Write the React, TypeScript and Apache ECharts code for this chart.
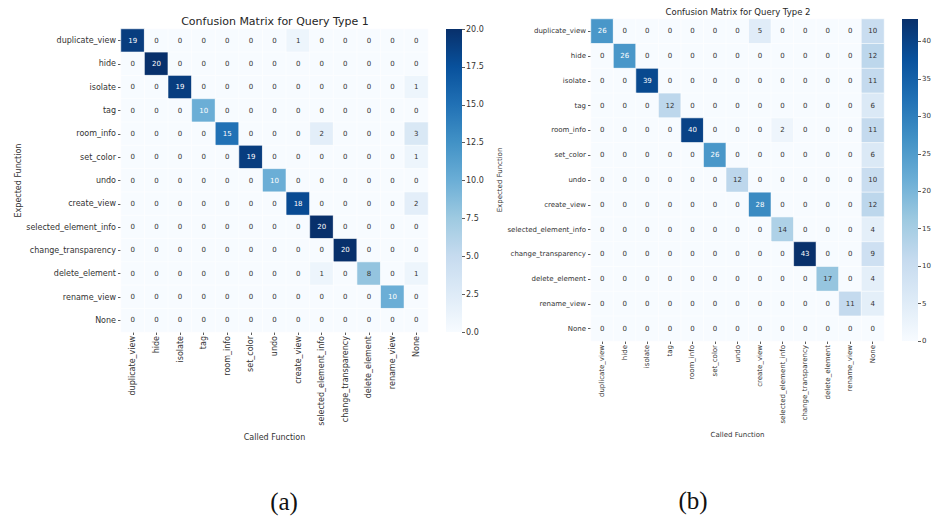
import React, { useEffect, useRef } from "react";
import * as echarts from "echarts";

// Function names shared by both matrices (rows = expected, columns = called)
const functions = [
  "duplicate_view",
  "hide",
  "isolate",
  "tag",
  "room_info",
  "set_color",
  "undo",
  "create_view",
  "selected_element_info",
  "change_transparency",
  "delete_element",
  "rename_view",
  "None",
];

// Query Type 1 counts
const matrix1: number[][] = [
  [19, 0, 0, 0, 0, 0, 0, 1, 0, 0, 0, 0, 0],
  [0, 20, 0, 0, 0, 0, 0, 0, 0, 0, 0, 0, 0],
  [0, 0, 19, 0, 0, 0, 0, 0, 0, 0, 0, 0, 1],
  [0, 0, 0, 10, 0, 0, 0, 0, 0, 0, 0, 0, 0],
  [0, 0, 0, 0, 15, 0, 0, 0, 2, 0, 0, 0, 3],
  [0, 0, 0, 0, 0, 19, 0, 0, 0, 0, 0, 0, 1],
  [0, 0, 0, 0, 0, 0, 10, 0, 0, 0, 0, 0, 0],
  [0, 0, 0, 0, 0, 0, 0, 18, 0, 0, 0, 0, 2],
  [0, 0, 0, 0, 0, 0, 0, 0, 20, 0, 0, 0, 0],
  [0, 0, 0, 0, 0, 0, 0, 0, 0, 20, 0, 0, 0],
  [0, 0, 0, 0, 0, 0, 0, 0, 1, 0, 8, 0, 1],
  [0, 0, 0, 0, 0, 0, 0, 0, 0, 0, 0, 10, 0],
  [0, 0, 0, 0, 0, 0, 0, 0, 0, 0, 0, 0, 0],
];

// Query Type 2 counts
const matrix2: number[][] = [
  [26, 0, 0, 0, 0, 0, 0, 5, 0, 0, 0, 0, 10],
  [0, 26, 0, 0, 0, 0, 0, 0, 0, 0, 0, 0, 12],
  [0, 0, 39, 0, 0, 0, 0, 0, 0, 0, 0, 0, 11],
  [0, 0, 0, 12, 0, 0, 0, 0, 0, 0, 0, 0, 6],
  [0, 0, 0, 0, 40, 0, 0, 0, 2, 0, 0, 0, 11],
  [0, 0, 0, 0, 0, 26, 0, 0, 0, 0, 0, 0, 6],
  [0, 0, 0, 0, 0, 0, 12, 0, 0, 0, 0, 0, 10],
  [0, 0, 0, 0, 0, 0, 0, 28, 0, 0, 0, 0, 12],
  [0, 0, 0, 0, 0, 0, 0, 0, 14, 0, 0, 0, 4],
  [0, 0, 0, 0, 0, 0, 0, 0, 0, 43, 0, 0, 9],
  [0, 0, 0, 0, 0, 0, 0, 0, 0, 0, 17, 0, 4],
  [0, 0, 0, 0, 0, 0, 0, 0, 0, 0, 0, 11, 4],
  [0, 0, 0, 0, 0, 0, 0, 0, 0, 0, 0, 0, 0],
];

// Colour-bar ranges and tick labels
const colorbarMax1 = 20;
const colorbarMax2 = 43;
const colorbarTicks1 = [0, 2.5, 5, 7.5, 10, 12.5, 15, 17.5, 20];
const colorbarTicks2 = [0, 5, 10, 15, 20, 25, 30, 35, 40];

const titles = ["Confusion Matrix for Query Type 1", "Confusion Matrix for Query Type 2"];

// "Blues" sequential palette
const BLUES = [
  "#f7fbff",
  "#deebf7",
  "#c6dbef",
  "#9ecae1",
  "#6baed6",
  "#4292c6",
  "#2171b5",
  "#08519c",
  "#08306b",
];

function hexToRgb(h: string): number[] {
  const n = parseInt(h.slice(1), 16);
  return [(n >> 16) & 255, (n >> 8) & 255, n & 255];
}

function bluesAt(t: number): number[] {
  const c = Math.max(0, Math.min(1, t)) * (BLUES.length - 1);
  const i = Math.min(BLUES.length - 2, Math.floor(c));
  const f = c - i;
  const a = hexToRgb(BLUES[i]);
  const b = hexToRgb(BLUES[i + 1]);
  return a.map((v, k) => v + (b[k] - v) * f);
}

// White annotations on dark cells, dark ones on light cells
function annotColor(v: number, max: number): string {
  const lin = bluesAt(v / max).map((c) => {
    const s = c / 255;
    return s <= 0.03928 ? s / 12.92 : Math.pow((s + 0.055) / 1.055, 2.4);
  });
  const lum = 0.2126 * lin[0] + 0.7152 * lin[1] + 0.0722 * lin[2];
  return lum > 0.408 ? "#333333" : "#ffffff";
}

function cells(m: number[][], max: number) {
  const out: any[] = [];
  m.forEach((row, i) =>
    row.forEach((v, j) => {
      out.push({ value: [j, i, v], label: { color: annotColor(v, max) } });
    })
  );
  return out;
}

const FONT = "DejaVu Sans";
const TICK_COLOR = "#333333";

function heatAxes(gridIndex: number, fs: number, xGap: number, yGap: number, nameFs: number) {
  const x = {
    type: "category",
    gridIndex,
    data: functions,
    position: "bottom",
    name: "Called Function",
    nameLocation: "middle",
    nameGap: xGap,
    nameTextStyle: { fontFamily: FONT, fontSize: nameFs, color: TICK_COLOR },
    axisLine: { show: false },
    axisTick: { show: true, alignWithLabel: true, length: 3, lineStyle: { color: TICK_COLOR, width: 0.8 } },
    axisLabel: { rotate: 90, fontFamily: FONT, fontSize: fs, color: TICK_COLOR, margin: 4, interval: 0 },
    splitLine: { show: false },
  };
  const y = {
    type: "category",
    gridIndex,
    data: functions,
    inverse: true,
    name: "Expected Function",
    nameLocation: "middle",
    nameGap: yGap,
    nameTextStyle: { fontFamily: FONT, fontSize: nameFs, color: TICK_COLOR },
    axisLine: { show: false },
    axisTick: { show: true, alignWithLabel: true, length: 3, lineStyle: { color: TICK_COLOR, width: 0.8 } },
    axisLabel: { fontFamily: FONT, fontSize: fs, color: TICK_COLOR, margin: 5, interval: 0 },
    splitLine: { show: false },
  };
  return { x, y };
}

function colorbarAxes(gridIndex: number, max: number, ticks: number[], step: number, fs: number, decimals: number) {
  const x = { type: "category", gridIndex, data: [""], show: false };
  const y = {
    type: "value",
    gridIndex,
    position: "right",
    min: 0,
    max,
    interval: step,
    axisLine: { show: false },
    splitLine: { show: false },
    axisTick: {
      show: true,
      length: 3,
      customValues: ticks,
      lineStyle: { color: TICK_COLOR, width: 0.8 },
    },
    axisLabel: {
      customValues: ticks,
      fontFamily: FONT,
      fontSize: fs,
      color: TICK_COLOR,
      margin: 4,
      formatter: (v: number) => (ticks.indexOf(v) >= 0 ? v.toFixed(decimals) : ""),
    },
  };
  return { x, y };
}

function gradientBar(xi: number, max: number) {
  return {
    type: "bar",
    xAxisIndex: xi,
    yAxisIndex: xi,
    data: [max],
    barWidth: "100%",
    silent: true,
    itemStyle: {
      color: new echarts.graphic.LinearGradient(
        0,
        0,
        0,
        1,
        BLUES.slice()
          .reverse()
          .map((c, i) => ({ offset: i / (BLUES.length - 1), color: c }))
      ),
    },
  };
}

export default function App() {
  const ref = useRef<HTMLDivElement>(null);

  useEffect(() => {
    document.body.style.margin = "0";
    if (!ref.current) return;
    const chart = echarts.init(ref.current, undefined, { renderer: "svg" });

    const hA = heatAxes(0, 8, 98, 96, 8);
    const hB = heatAxes(1, 7, 88, 86, 7);
    const cA = colorbarAxes(2, colorbarMax1, colorbarTicks1, 2.5, 8, 1);
    const cB = colorbarAxes(3, colorbarMax2, colorbarTicks2, 5, 7, 0);

    chart.setOption({
      animation: false,
      backgroundColor: "#ffffff",
      grid: [
        { left: 121, top: 29, width: 307, height: 303 },
        { left: 591, top: 19, width: 293, height: 322 },
        { left: 446, top: 29, width: 16, height: 303 },
        { left: 902, top: 19, width: 16, height: 322 },
      ],
      xAxis: [hA.x, hB.x, cA.x, cB.x],
      yAxis: [hA.y, hB.y, cA.y, cB.y],
      visualMap: [
        { type: "continuous", show: false, seriesIndex: 0, min: 0, max: colorbarMax1, inRange: { color: BLUES } },
        { type: "continuous", show: false, seriesIndex: 1, min: 0, max: colorbarMax2, inRange: { color: BLUES } },
      ],
      graphic: [
        {
          type: "text",
          x: 275,
          y: 21,
          style: { text: titles[0], font: `11px "${FONT}"`, fill: "#262626", align: "center", verticalAlign: "middle" },
        },
        {
          type: "text",
          x: 738,
          y: 12,
          style: { text: titles[1], font: `8.5px "${FONT}"`, fill: "#262626", align: "center", verticalAlign: "middle" },
        },
        {
          type: "text",
          x: 284,
          y: 501,
          style: { text: "(a)", font: `25px "Liberation Serif"`, fill: "#111111", align: "center", verticalAlign: "middle" },
        },
        {
          type: "text",
          x: 693,
          y: 500,
          style: { text: "(b)", font: `25px "Liberation Serif"`, fill: "#111111", align: "center", verticalAlign: "middle" },
        },
      ],
      series: [
        {
          type: "heatmap",
          xAxisIndex: 0,
          yAxisIndex: 0,
          data: cells(matrix1, colorbarMax1),
          itemStyle: { borderColor: "#ffffff", borderWidth: 0.6 },
          label: { show: true, fontFamily: FONT, fontSize: 7, formatter: (p: any) => String(p.value[2]) },
          emphasis: { disabled: true },
        },
        {
          type: "heatmap",
          xAxisIndex: 1,
          yAxisIndex: 1,
          data: cells(matrix2, colorbarMax2),
          itemStyle: { borderColor: "#ffffff", borderWidth: 0.6 },
          label: { show: true, fontFamily: FONT, fontSize: 7, formatter: (p: any) => String(p.value[2]) },
          emphasis: { disabled: true },
        },
        gradientBar(2, colorbarMax1),
        gradientBar(3, colorbarMax2),
      ],
    });

    return () => chart.dispose();
  }, []);

  return <div ref={ref} style={{ width: 935, height: 519 }} />;
}
